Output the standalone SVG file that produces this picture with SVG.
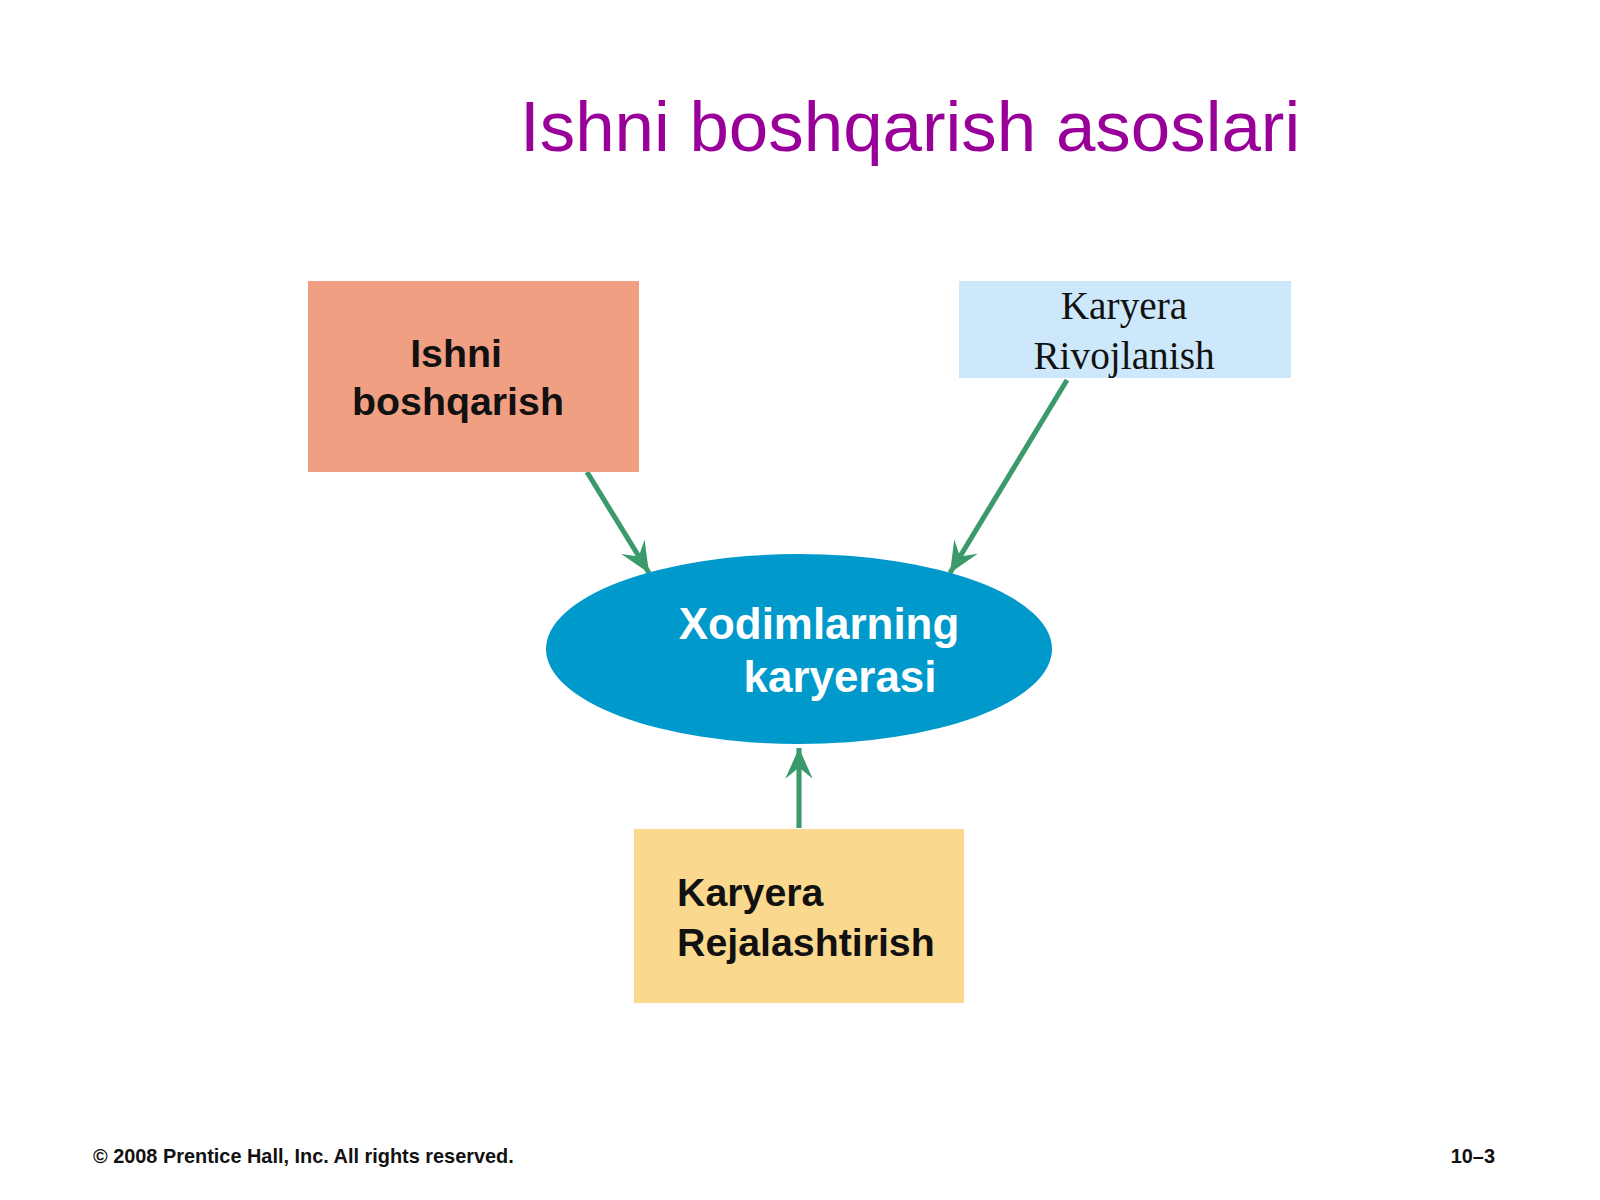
<svg xmlns="http://www.w3.org/2000/svg" width="1600" height="1200" viewBox="0 0 1600 1200">
<defs>
<style>
.bold{font-family:"Liberation Sans",Arial,sans-serif;font-weight:bold}
.box{font-size:39.3px;fill:#111}
.serif{font-family:"Liberation Serif","Times New Roman",serif;font-size:39.3px;fill:#111}
.conn{stroke:#3a9a6a;stroke-width:5.1;fill:none}
</style>
<marker id="ah" markerUnits="userSpaceOnUse" markerWidth="40" markerHeight="40" viewBox="-30 -15 35 30" refX="0" refY="0" orient="auto">
<path d="M0,0 L-27,-12 L-17,0 L-27,12 Z" fill="#3a9a6a"/>
</marker>
</defs>
<rect width="1600" height="1200" fill="#ffffff"/>
<text x="520" y="151" font-family="'Liberation Sans',Arial,sans-serif" font-size="70.9" fill="#990099">Ishni boshqarish asoslari</text>
<g id="connectors">
<line class="conn" x1="587" y1="472" x2="649" y2="573" marker-end="url(#ah)"/>
<line class="conn" x1="1067" y1="380" x2="950" y2="573" marker-end="url(#ah)"/>
<line class="conn" x1="799" y1="828" x2="799" y2="748" marker-end="url(#ah)"/>
</g>
<g id="ishni-boshqarish">
<rect x="308" y="281" width="331" height="191" fill="#F09F82"/>
<text class="bold box" text-anchor="middle"><tspan x="456" y="367">Ishni</tspan><tspan x="458" y="415">boshqarish</tspan></text>
</g>
<g id="karyera-rivojlanish">
<rect x="959" y="281" width="332" height="97" fill="#CCE8FA"/>
<text class="serif" text-anchor="middle"><tspan x="1124" y="319">Karyera</tspan><tspan x="1124" y="369">Rivojlanish</tspan></text>
</g>
<g id="xodimlarning-karyerasi">
<ellipse cx="799" cy="649" rx="253" ry="95" fill="#0099CC"/>
<text class="bold" font-size="43.9" fill="#ffffff" text-anchor="middle"><tspan x="819" y="639">Xodimlarning</tspan><tspan x="840" y="692">karyerasi</tspan></text>
</g>
<g id="karyera-rejalashtirish">
<rect x="634" y="829" width="330" height="174" fill="#FAD98E"/>
<text class="bold box"><tspan x="677" y="906">Karyera</tspan><tspan x="677" y="956">Rejalashtirish</tspan></text>
</g>
<text class="bold" x="93" y="1163" font-size="19.9" fill="#111">© 2008 Prentice Hall, Inc. All rights reserved.</text>
<text class="bold" x="1495" y="1163" font-size="19.9" fill="#111" text-anchor="end">10–3</text>
</svg>
